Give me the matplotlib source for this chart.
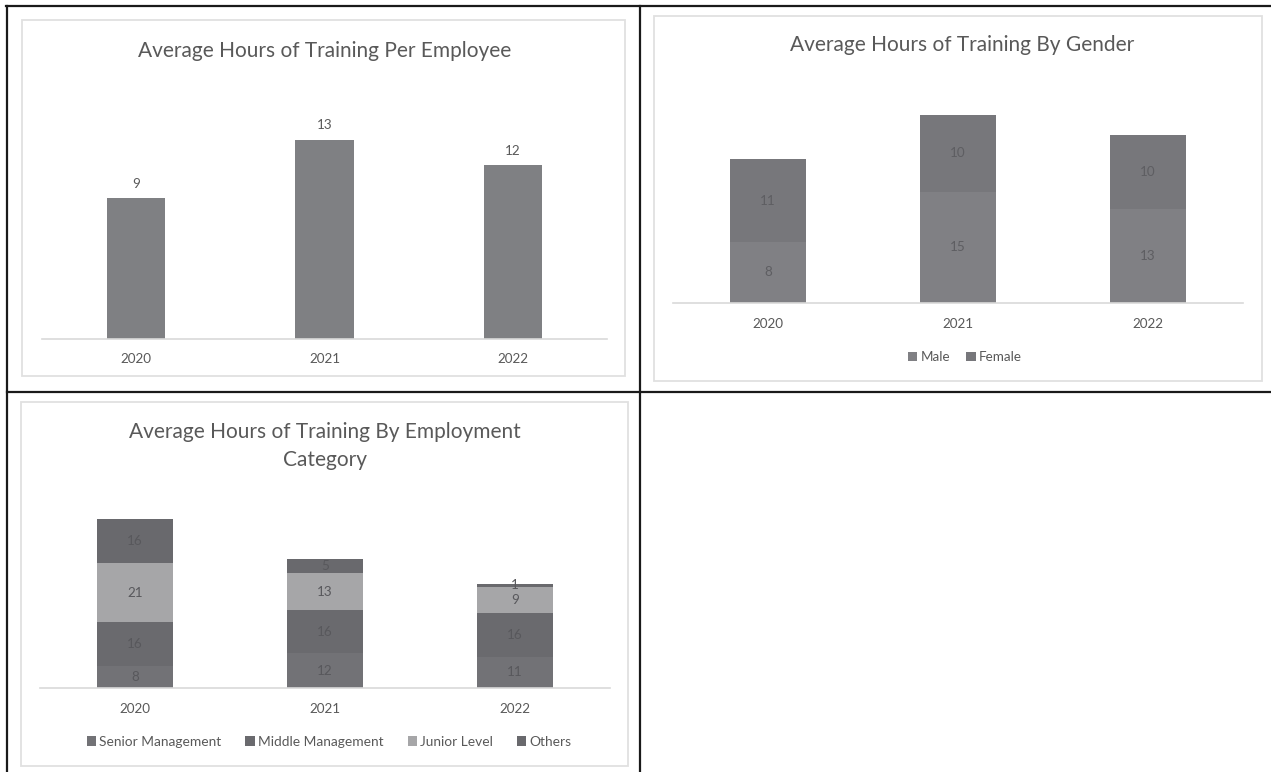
import matplotlib.pyplot as plt
from matplotlib.patches import Rectangle
from matplotlib.lines import Line2D

plt.rcParams['font.family'] = ['Lato', 'DejaVu Sans']

# data
years = ['2020', '2021', '2022']

avg_hours = [9.4, 13.3, 11.6]

gender_names = ['Male', 'Female']
male_hours = [8.2, 14.9, 12.6]
female_hours = [11.1, 10.4, 9.9]

category_names = ['Senior Management', 'Middle Management', 'Junior Level', 'Others']
senior_hours = [7.8, 12.4, 11.2]
middle_hours = [15.6, 15.5, 15.6]
junior_hours = [21.2, 13.0, 9.3]
others_hours = [15.8, 5.0, 1.2]

W, H = 1271, 772
fig = plt.figure(figsize=(W / 100, H / 100), dpi=100)

txt_col = '#595959'


def fx(x):
    return x / W


def fy(y):
    return 1 - y / H


def box(x0, x1, y0, y1):
    # chart area frame, pixel coords
    r = Rectangle((fx(x0), fy(y1)), fx(x1 - x0), (y1 - y0) / H, transform=fig.transFigure,
                  facecolor='white', edgecolor='#e0e0e0', lw=1.3, zorder=0)
    fig.add_artist(r)


def make_ax(x0, x1, ybase, ymax, scale):
    top = ybase - ymax * scale
    ax = fig.add_axes([fx(x0), fy(ybase), fx(x1 - x0), (ybase - top) / H])
    ax.set_xlim(-0.5, 2.5)
    ax.set_ylim(0, ymax)
    ax.patch.set_alpha(0)
    for s in ['top', 'left', 'right']:
        ax.spines[s].set_visible(False)
    ax.spines['bottom'].set_color('#d9d9d9')
    ax.spines['bottom'].set_linewidth(1.2)
    ax.set_yticks([])
    ax.set_xticks(range(len(years)))
    ax.set_xticklabels(years)
    ax.tick_params(axis='x', length=0, pad=11, labelsize=9.7, labelcolor=txt_col)
    return ax


# table borders
for (x0, y0, x1, y1) in [(6, 6, 1271, 6), (7, 6, 7, 772), (640, 6, 640, 772), (7, 392, 1271, 392)]:
    fig.add_artist(Line2D([fx(x0), fx(x1)], [fy(y0), fy(y1)], transform=fig.transFigure,
                          color='#1a1a1a', lw=1.6))

# chart 1 - per employee
box(22, 625, 20, 376)
ax1 = make_ax(42, 607, 339, 16, 15)
b = ax1.bar(range(3), avg_hours, width=0.31, color='#7f8083')
ax1.bar_label(b, labels=[f'{v:.0f}' for v in avg_hours], padding=6, fontsize=9.7, color=txt_col)
ax1.tick_params(axis='x', pad=10)
fig.text(fx(325), fy(51), 'Average Hours of Training Per Employee', ha='center', va='center',
         fontsize=15, color=txt_col)

# chart 2 - by gender
box(654, 1262, 16, 381)
ax2 = make_ax(673, 1243, 303, 28, 7.45)
b_m = ax2.bar(range(3), male_hours, width=0.4, color='#808084', label='Male')
b_f = ax2.bar(range(3), female_hours, width=0.4, bottom=male_hours, color='#77777b', label='Female')
for bars, vals in [(b_m, male_hours), (b_f, female_hours)]:
    ax2.bar_label(bars, labels=[f'{v:.0f}' for v in vals], label_type='center',
                  fontsize=9.7, color='#5e5e62')
fig.text(fx(962), fy(45), 'Average Hours of Training By Gender', ha='center', va='center',
         fontsize=15, color=txt_col)
fig.legend(handles=[b_m, b_f], labels=gender_names, loc='center', bbox_to_anchor=(fx(965), fy(357)),
           ncol=2, frameon=False, fontsize=9.7, labelcolor=txt_col, handlelength=0.7,
           handleheight=0.7, handletextpad=0.25, columnspacing=1.2)

# chart 3 - by employment category
box(21, 628, 402, 766)
ax3 = make_ax(40, 610, 688, 70, 2.8)
cat_vals = [senior_hours, middle_hours, junior_hours, others_hours]
cat_cols = ['#727276', '#6a6a6e', '#a6a6a8', '#69696d']
bottom = [0, 0, 0]
handles = []
for name, vals, col in zip(category_names, cat_vals, cat_cols):
    bb = ax3.bar(range(3), vals, width=0.4, bottom=bottom, color=col, label=name)
    ax3.bar_label(bb, labels=[f'{v:.0f}' for v in vals], label_type='center',
                  fontsize=9.7, color='#58585c')
    handles.append(bb)
    bottom = [a + v for a, v in zip(bottom, vals)]
fig.text(fx(325), fy(446), 'Average Hours of Training By Employment\nCategory', ha='center',
         va='center', fontsize=15, color=txt_col, linespacing=1.55)
fig.legend(handles=handles, labels=category_names, loc='center', bbox_to_anchor=(fx(329), fy(742)),
           ncol=4, frameon=False, fontsize=9.9, labelcolor=txt_col, handlelength=0.7,
           handleheight=0.7, handletextpad=0.2, columnspacing=1.75)

plt.savefig('out.png', dpi=100)
